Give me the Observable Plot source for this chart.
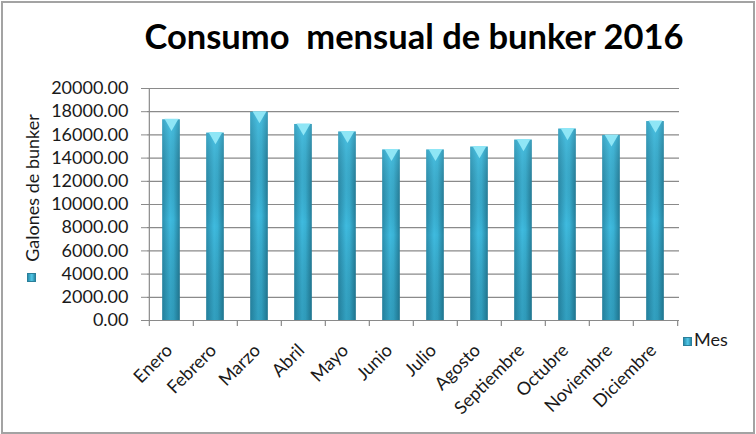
<!DOCTYPE html>
<html>
<head>
<meta charset="utf-8">
<script src="https://cdn.jsdelivr.net/npm/d3@7"></script>
<script src="https://cdn.jsdelivr.net/npm/@observablehq/plot@0.6"></script>
<style>
  html, body { margin: 0; padding: 0; background: #fff; }
  #wrap { position: relative; width: 756px; height: 434px; overflow: hidden; font-family: Lato, "Open Sans", sans-serif; }
  #border { position: absolute; left: 1px; top: 1px; width: 754px; height: 433px; box-sizing: border-box; border: 2px solid #a3a3a3; pointer-events: none; }
  #title { position: absolute; left: 0; width: 828px; top: 15px; text-align: center; font-weight: 700; font-size: 34.5px; color: #000; white-space: pre; }
  #ylab { position: absolute; left: 32px; top: 188px; transform: translate(-50%, -50%) rotate(-90deg); font-size: 18px; color: #1a1a1a; white-space: nowrap; }
  .sq { position: absolute; width: 9px; height: 9px; background: linear-gradient(90deg, #2a8fae, #52c8e8 55%, #2a86a3); border: 1px solid #2a7f9a; box-sizing: border-box; }
  #legtext { position: absolute; left: 694px; top: 328px; font-size: 18px; color: #1a1a1a; }
  svg { position: absolute; left: 0; top: 0; }
</style>
</head>
<body>
<div id="wrap">
  <div id="title">Consumo  mensual de bunker 2016</div>
  <div id="ylab">Galones de bunker</div>
  <div class="sq" style="left:27px; top:273px;"></div>
  <div class="sq" style="left:683px; top:337px;"></div>
  <div id="legtext">Mes</div>
  <div id="border"></div>
</div>
<script>
const months = ["Enero","Febrero","Marzo","Abril","Mayo","Junio","Julio","Agosto","Septiembre","Octubre","Noviembre","Diciembre"];
const galones = [17300, 16150, 17950, 16900, 16250, 14700, 14700, 14950, 15550, 16500, 15950, 17150];
const yTicks = [0, 2000, 4000, 6000, 8000, 10000, 12000, 14000, 16000, 18000, 20000];
const seriesName = "Mes";

const data = months.map((m, i) => ({mes: m, valor: galones[i], serie: seriesName}));

const W = 756, H = 434;
const mL = 147, mR = 77, mT = 88, mB = 114;
const band = (W - mL - mR) / months.length;
const perPx = 20000 / (H - mT - mB);

const chart = Plot.plot({
  width: W,
  height: H,
  marginLeft: mL,
  marginRight: mR,
  marginTop: mT,
  marginBottom: mB,
  style: {fontFamily: "Lato, 'Open Sans', sans-serif", fontSize: "18px", color: "#1a1a1a", background: "transparent", overflow: "visible"},
  x: {domain: months, padding: 0, label: null},
  y: {domain: [0, 20000], label: null},
  marks: [
    Plot.gridY(yTicks, {stroke: "#8a8a8a", strokeOpacity: 1, strokeWidth: 1.2}),
    Plot.barY(data, {x: "mes", y: "valor", fill: "url(#barGradH)", insetLeft: 13.2, insetRight: 13.2}),
    Plot.barY(data, {x: "mes", y: "valor", fill: "url(#barGradV)", insetLeft: 13.2, insetRight: 13.2}),
    Plot.dot(data, {x: "mes", y: "valor", symbol: "triangle", r: 5.2, rotate: 180, fill: "#8fe6f6", dy: 3}),
    Plot.ruleY([0], {stroke: "#8a8a8a", strokeWidth: 1.2}),
    Plot.ruleX([months[0]], {dx: -band / 2, y1: 0, y2: 20000, stroke: "#8a8a8a", strokeWidth: 1.2}),
    Plot.ruleX(months, {dx: -band / 2, y1: 0, y2: -6 * perPx, stroke: "#8a8a8a", strokeWidth: 1.2}),
    Plot.ruleX([months[months.length - 1]], {dx: band / 2, y1: 0, y2: -6 * perPx, stroke: "#8a8a8a", strokeWidth: 1.2}),
    Plot.axisY(yTicks, {tickFormat: d => d.toFixed(2), tickSize: 6, tickPadding: 13, stroke: "#8a8a8a", label: null}),
    Plot.axisX({tickSize: 0, tickRotate: -45, tickPadding: 27, dx: -2, label: null})
  ]
});

const defs = `<defs>
  <linearGradient id="barGradH" x1="0" x2="1" y1="0" y2="0">
    <stop offset="0" stop-color="#2b8fae"/>
    <stop offset="0.45" stop-color="#3fbbdf"/>
    <stop offset="0.65" stop-color="#3ab3d6"/>
    <stop offset="1" stop-color="#25809c"/>
  </linearGradient>
  <linearGradient id="barGradV" x1="0" x2="0" y1="0" y2="1">
    <stop offset="0" stop-color="#5fd0ee" stop-opacity="0.35"/>
    <stop offset="0.5" stop-color="#000" stop-opacity="0"/>
    <stop offset="1" stop-color="#0b4f63" stop-opacity="0.25"/>
  </linearGradient>
</defs>`;
chart.insertAdjacentHTML("afterbegin", defs);
document.getElementById("wrap").insertBefore(chart, document.getElementById("title"));
</script>
</body>
</html>
